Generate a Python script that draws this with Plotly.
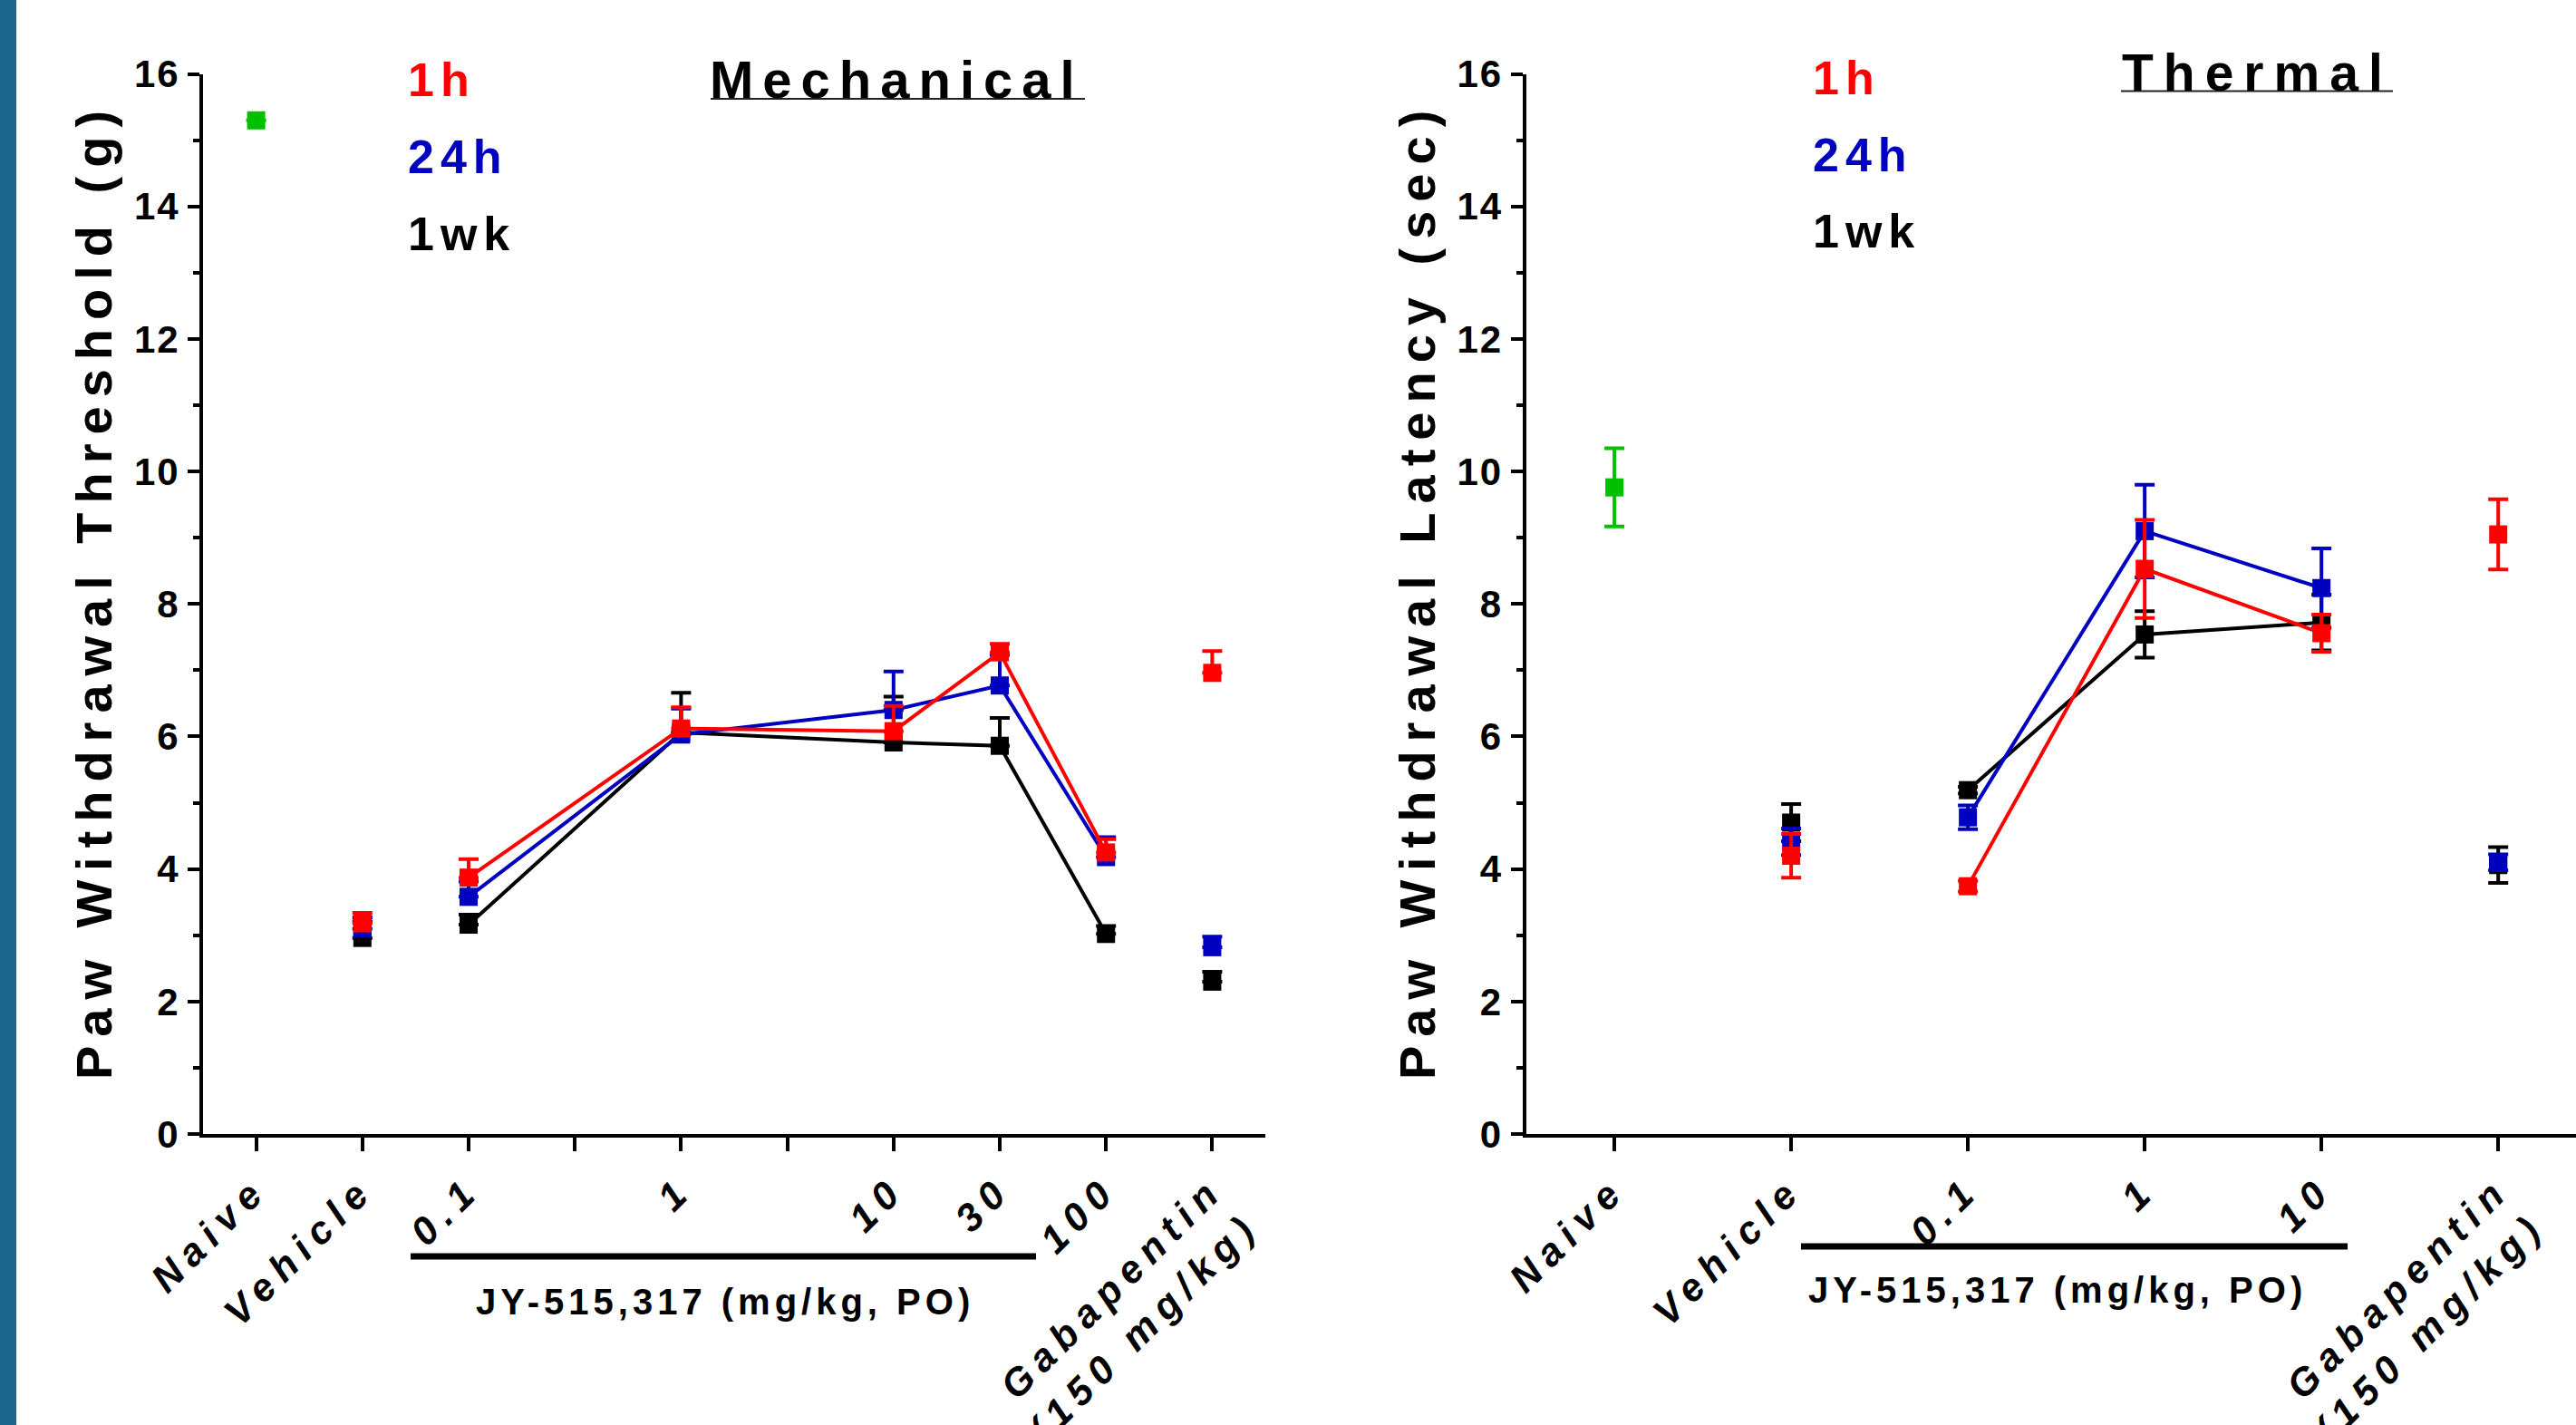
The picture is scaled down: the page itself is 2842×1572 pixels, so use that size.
import plotly.graph_objects as go

W, H = 2842, 1572
FONT = "Liberation Sans, Arial, sans-serif"

RED = "#ff0000"
BLUE = "#0000c0"
BLACK = "#000000"
GREEN = "#00c000"

# ---------------- data: Mechanical ----------------
mech_categories = ["Naive", "Vehicle", "0.1", " ", "1", "  ", "10", "30", "100", "Gabapentin"]
mech_ticklabels = ["Naive", "Vehicle", "0.1", "", "1", "", "10", "30", "100", "Gabapentin|(150 mg/kg)"]
mech_doses = ["0.1", "1", "10", "30", "100"]
mech_controls = ["Vehicle", "Gabapentin"]

mech_naive = [15.30]
mech_naive_err = [0.0]

mech_1h_ctrl = [3.18, 6.96]
mech_1h_ctrl_err = [0.16, 0.33]
mech_1h_dose = [3.87, 6.12, 6.08, 7.27, 4.25]
mech_1h_dose_err = [0.28, 0.32, 0.38, 0.13, 0.20]

mech_24h_ctrl = [3.10, 2.82]
mech_24h_ctrl_err = [0.17, 0.16]
mech_24h_dose = [3.58, 6.03, 6.40, 6.77, 4.18]
mech_24h_dose_err = [0.23, 0.39, 0.58, 0.46, 0.30]

mech_1wk_ctrl = [2.96, 2.30]
mech_1wk_ctrl_err = [0.25, 0.15]
mech_1wk_dose = [3.16, 6.06, 5.91, 5.86, 3.02]
mech_1wk_dose_err = [0.15, 0.60, 0.69, 0.42, 0.12]

# ---------------- data: Thermal ----------------
therm_categories = ["Naive", "Vehicle", "0.1", "1", "10", "Gabapentin"]
therm_ticklabels = ["Naive", "Vehicle", "0.1", "1", "10", "Gabapentin|(150 mg/kg)"]
therm_doses = ["0.1", "1", "10"]
therm_controls = ["Vehicle", "Gabapentin"]

therm_naive = [9.76]
therm_naive_err = [0.59]

therm_1h_ctrl = [4.20, 9.05]
therm_1h_ctrl_err = [0.33, 0.53]
therm_1h_dose = [3.74, 8.53, 7.56]
therm_1h_dose_err = [0.08, 0.74, 0.28]

therm_24h_ctrl = [4.41, 4.10]
therm_24h_ctrl_err = [0.20, 0.12]
therm_24h_dose = [4.78, 9.10, 8.24]
therm_24h_dose_err = [0.18, 0.70, 0.60]

therm_1wk_ctrl = [4.70, 4.06]
therm_1wk_ctrl_err = [0.28, 0.27]
therm_1wk_dose = [5.19, 7.54, 7.72]
therm_1wk_dose_err = [0.05, 0.35, 0.42]

y_ticks = [0, 2, 4, 6, 8, 10, 12, 14, 16]
series_labels = ["1h", "24h", "1wk"]
series_colors = [RED, BLUE, BLACK]


def sp(text, ls):
    """letter-spaced text (keeps plain text, styled per line)"""
    return "<br>".join(f'<span style="letter-spacing:{ls}px">{t}</span>' for t in text.split("|"))


fig = go.Figure()


def add_series(xa, ya, x, y, err, color, mode, one_sided):
    if one_sided:
        ey = dict(type="data", array=err, arrayminus=[0] * len(err), symmetric=False,
                  color=color, thickness=4, width=11)
    else:
        ey = dict(type="data", array=err, symmetric=True, color=color, thickness=4, width=11)
    fig.add_trace(go.Scatter(
        x=x, y=y, xaxis=xa, yaxis=ya, mode=mode, error_y=ey,
        marker=dict(symbol="square", size=20, color=color, line=dict(width=0)),
        line=dict(color=color, width=4), showlegend=False, cliponaxis=False))


# Mechanical panel
add_series("x", "y", ["Naive"], mech_naive, mech_naive_err, GREEN, "markers", True)
mech_sets = [
    (mech_1wk_ctrl, mech_1wk_ctrl_err, mech_1wk_dose, mech_1wk_dose_err, BLACK),
    (mech_24h_ctrl, mech_24h_ctrl_err, mech_24h_dose, mech_24h_dose_err, BLUE),
    (mech_1h_ctrl, mech_1h_ctrl_err, mech_1h_dose, mech_1h_dose_err, RED),
]
for c, ce, d, de, col in mech_sets:
    add_series("x", "y", mech_controls, c, ce, col, "markers", True)
    add_series("x", "y", mech_doses, d, de, col, "lines+markers", True)

# Thermal panel
add_series("x2", "y2", ["Naive"], therm_naive, therm_naive_err, GREEN, "markers", False)
therm_sets = [
    (therm_1wk_ctrl, therm_1wk_ctrl_err, therm_1wk_dose, therm_1wk_dose_err, BLACK),
    (therm_24h_ctrl, therm_24h_ctrl_err, therm_24h_dose, therm_24h_dose_err, BLUE),
    (therm_1h_ctrl, therm_1h_ctrl_err, therm_1h_dose, therm_1h_dose_err, RED),
]
for c, ce, d, de, col in therm_sets:
    add_series("x2", "y2", therm_controls, c, ce, col, "markers", False)
    add_series("x2", "y2", therm_doses, d, de, col, "lines+markers", False)

ydom = [1 - 1251 / H, 1 - 81.6 / H]

xcommon = dict(type="category", categoryorder="array", tickmode="array", automargin=False,
               ticks="outside", ticklen=15, tickwidth=4, tickcolor=BLACK,
               showline=True, linewidth=4, linecolor=BLACK, showgrid=False, zeroline=False,
               tickangle=-45,
               tickfont=dict(family=FONT, size=43, color=BLACK, weight="bold", style="italic"))
ycommon = dict(range=[0, 16], tickmode="array", tickvals=y_ticks, automargin=False,
               ticktext=[sp(str(v), 2) for v in y_ticks],
               ticks="outside", ticklen=13, tickwidth=4, tickcolor=BLACK,
               minor=dict(ticks="outside", ticklen=7, tickwidth=4, tickcolor=BLACK, dtick=1, tick0=0),
               showline=True, linewidth=4, linecolor=BLACK, showgrid=False, zeroline=False,
               tickfont=dict(family=FONT, size=42, color=BLACK, weight="bold"), domain=ydom)

fig.update_layout(
    width=W, height=H, autosize=False, margin=dict(l=0, r=0, t=0, b=0, pad=0, autoexpand=False),
    paper_bgcolor="white", plot_bgcolor="white", showlegend=False,
    xaxis=dict(xcommon, domain=[224 / W, 1396 / W], anchor="y",
               categoryarray=mech_categories, range=[-0.5, 9.5],
               tickvals=mech_categories, ticktext=[sp(t, 9) for t in mech_ticklabels]),
    yaxis=dict(ycommon, anchor="x"),
    xaxis2=dict(xcommon, domain=[1683.6 / W, 1.0], anchor="y2",
                categoryarray=therm_categories, range=[-0.5, 5.44],
                tickvals=therm_categories, ticktext=[sp(t, 9) for t in therm_ticklabels]),
    yaxis2=dict(ycommon, anchor="x2"),
)

ann = []


def txt(text, x, y, size, color=BLACK, ls=8, xanchor="center", angle=0):
    ann.append(dict(text=sp(text, ls), x=x / W, y=1 - y / H, xref="paper", yref="paper",
                    xanchor=xanchor, yanchor="middle", showarrow=False, textangle=angle,
                    font=dict(family=FONT, size=size, color=color, weight="bold")))


# axis titles
txt("Paw Withdrawal Threshold (g)", 103, 652, 56, ls=10, angle=-90)
txt("Paw Withdrawal Latency (sec)", 1563, 652, 56, ls=10, angle=-90)
# panel titles
txt("Mechanical", 990, 88, 58, ls=10)
txt("Thermal", 2490, 80, 57, ls=11)
# legend texts
for lab, col, yy in zip(series_labels, series_colors, [88, 173, 258]):
    txt(lab, 448, yy, 52, color=col, ls=7, xanchor="left")
for lab, col, yy in zip(series_labels, series_colors, [86, 171, 255]):
    txt(lab, 1998, yy, 52, color=col, ls=7, xanchor="left")
# dose group labels
txt("JY-515,317 (mg/kg, PO)", 800, 1436, 40, ls=5)
txt("JY-515,317 (mg/kg, PO)", 2270, 1423, 40, ls=5)

shapes = [
    # left decorative stripe
    dict(type="rect", xref="paper", yref="paper", x0=0, x1=18 / W, y0=0, y1=1,
         fillcolor="#1a688d", line=dict(width=0), layer="above"),
    # title underlines
    dict(type="line", xref="paper", yref="paper", x0=784 / W, x1=1197 / W,
         y0=1 - 109 / H, y1=1 - 109 / H, line=dict(color="#222222", width=2)),
    dict(type="line", xref="paper", yref="paper", x0=2340 / W, x1=2640 / W,
         y0=1 - 100.5 / H, y1=1 - 100.5 / H, line=dict(color="#222222", width=2)),
    # dose group bars
    dict(type="line", xref="paper", yref="paper", x0=453 / W, x1=1143 / W,
         y0=1 - 1386 / H, y1=1 - 1386 / H, line=dict(color=BLACK, width=7)),
    dict(type="line", xref="paper", yref="paper", x0=1987 / W, x1=2590 / W,
         y0=1 - 1375 / H, y1=1 - 1375 / H, line=dict(color=BLACK, width=7)),
]

fig.update_layout(annotations=ann, shapes=shapes)
fig.write_html(
    "out.html",
    config={"displayModeBar": False},
    post_script="document.body.style.margin='0';document.body.style.overflow='hidden';",
)
